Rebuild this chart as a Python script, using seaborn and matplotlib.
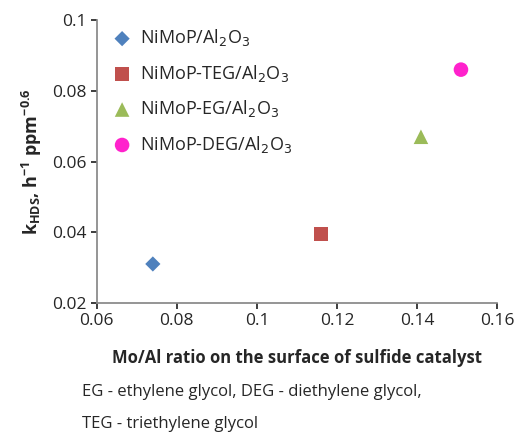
import matplotlib
matplotlib.use("Agg")
import matplotlib.pyplot as plt
import seaborn as sns
import pandas as pd

sns.set_theme(style="white")
plt.rcParams["font.family"] = ["Open Sans", "DejaVu Sans"]

catalysts = ["NiMoP/Al$_2$O$_3$", "NiMoP-TEG/Al$_2$O$_3$",
             "NiMoP-EG/Al$_2$O$_3$", "NiMoP-DEG/Al$_2$O$_3$"]
mo_al = [0.074, 0.116, 0.141, 0.151]
k_hds = [0.031, 0.0395, 0.067, 0.086]
colors = ["#4F81BD", "#C0504D", "#9BBB59", "#FF22CC"]
markers = ["D", "s", "^", "o"]
sizes = [60, 110, 110, 110]

df = pd.DataFrame({"cat": catalysts, "x": mo_al, "y": k_hds})

fig = plt.figure(figsize=(5.15, 4.48), dpi=100)
ax = fig.add_axes([0.188, 0.324, 0.777, 0.631])
for i, row in df.iterrows():
    sns.scatterplot(x=[row["x"]], y=[row["y"]], ax=ax, color=colors[i],
                    marker=markers[i], s=sizes[i], label=row["cat"],
                    edgecolor="none")

ax.set_xlim(0.06, 0.16)
ax.set_ylim(0.02, 0.1)
ax.set_xticks([0.06, 0.08, 0.1, 0.12, 0.14, 0.16])
ax.set_xticklabels(["0.06", "0.08", "0.1", "0.12", "0.14", "0.16"])
ax.set_yticks([0.02, 0.04, 0.06, 0.08, 0.1])
ax.set_yticklabels(["0.02", "0.04", "0.06", "0.08", "0.1"])
ax.tick_params(labelsize=12.5, direction="out", length=4, left=True, bottom=True)
for s in ["top", "right"]:
    ax.spines[s].set_visible(False)
for s in ["left", "bottom"]:
    ax.spines[s].set_color("#888888")

ax.set_xlabel("Mo/Al ratio on the surface of sulfide catalyst",
              fontsize=12, fontweight="bold", labelpad=14)
ax.set_ylabel("k$_{\\mathregular{HDS}}$, h$^{\\mathregular{-1}}$ ppm$^{\\mathregular{-0.6}}$",
              fontsize=13, fontweight="bold", labelpad=6)

leg = ax.legend(loc="upper left", frameon=False, fontsize=13,
                handletextpad=0.0, labelspacing=0.8, borderaxespad=0.0,
                bbox_to_anchor=(0.0, 1.0))

fig.text(0.16, 0.115, "EG - ethylene glycol, DEG - diethylene glycol,",
         fontsize=12)
fig.text(0.16, 0.045, "TEG - triethylene glycol", fontsize=12)

fig.savefig("out.png", dpi=100)
